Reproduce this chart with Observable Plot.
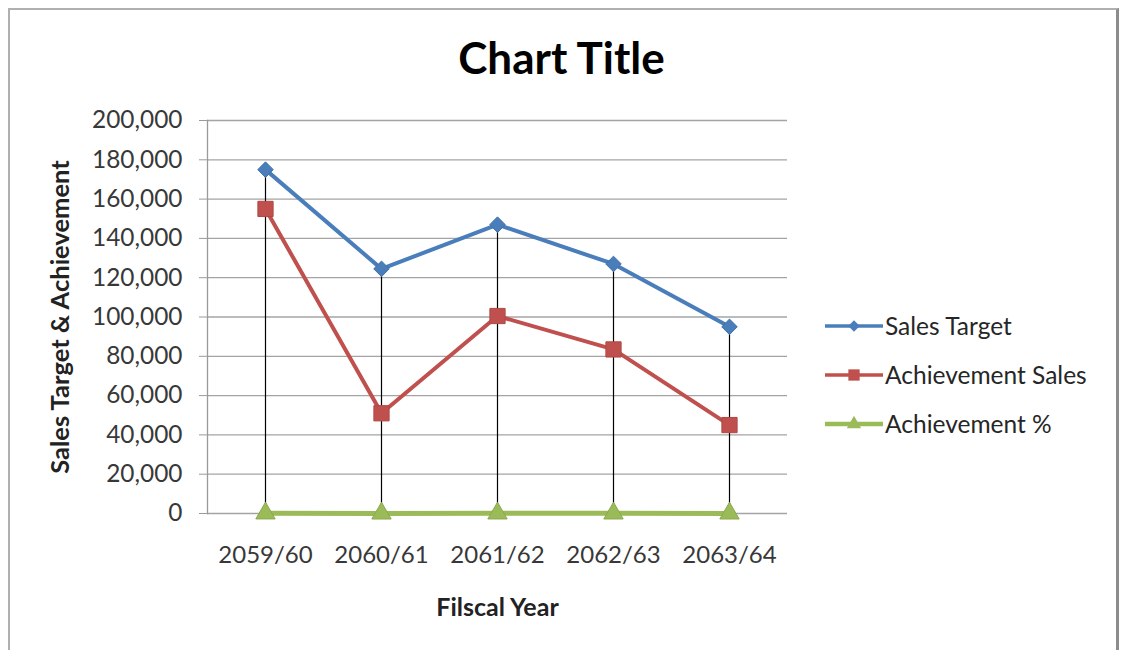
<!DOCTYPE html>
<html>
<head>
<meta charset="utf-8">
<script src="https://cdn.jsdelivr.net/npm/d3@7"></script>
<script src="https://cdn.jsdelivr.net/npm/@observablehq/plot@0.6"></script>
<style>
  html, body { margin: 0; padding: 0; background: #fff; }
  #chart { position: relative; width: 1126px; height: 650px; overflow: hidden; background: #fff; font-family: Lato, "Open Sans", sans-serif; }
  #border { position: absolute; left: 8px; top: 8px; width: 1106px; height: 700px;
            border-left: 2px solid #b0b0b0; border-top: 2px solid #b0b0b0; border-right: 3px solid #8c8c8c; }
  #title { position: absolute; left: 0; width: 1123px; top: 35px; text-align: center;
           font-size: 44px; line-height: 1; font-weight: bold; color: #000; }
  #plot { position: absolute; left: 0; top: 0; }
</style>
</head>
<body>
<div id="chart">
  <div id="border"></div>
  <div id="title">Chart Title</div>
  <div id="plot"></div>
</div>
<script>
// Fiscal years on the category axis
const years = ["2059/60", "2060/61", "2061/62", "2062/63", "2063/64"];

// Series values per fiscal year
const salesTarget = [175000, 124500, 147000, 127000, 95000];
const achievementSales = [155000, 51000, 100500, 83500, 45000];
const achievementPct = [88.6, 41.0, 68.4, 65.7, 47.4];

// Value-axis tick labels
const yTicks = [0, 20000, 40000, 60000, 80000, 100000, 120000, 140000, 160000, 180000, 200000];

// A square turned 45 degrees (equal width and height)
const squareDiamond = {
  draw(context, size) {
    const h = Math.sqrt(size) / Math.SQRT2 * 1.0;
    context.moveTo(0, -h);
    context.lineTo(h, 0);
    context.lineTo(0, h);
    context.lineTo(-h, 0);
    context.closePath();
  }
};

const seriesNames = ["Sales Target", "Achievement Sales", "Achievement %"];
const seriesValues = [salesTarget, achievementSales, achievementPct];
const seriesColors = ["#4a7ebb", "#c0504d", "#9bbb59"];
const seriesSymbols = [squareDiamond, d3.symbolSquare, d3.symbolTriangle];
const seriesRadius = [6.2, 8.6, 7.2];
const seriesWidth = [4, 4, 5];

// Long-form table: one row per (series, year)
const rows = seriesNames.flatMap((name, s) =>
  years.map((year, i) => ({series: name, year, value: seriesValues[s][i]}))
);

// High-low lines spanning all series at each year
const highLow = years.map((year, i) => ({
  year,
  low: d3.min(seriesValues, v => v[i]),
  high: d3.max(seriesValues, v => v[i])
}));

const lineMarks = seriesNames.map((name, s) =>
  Plot.line(rows.filter(d => d.series === name), {
    x: "year", y: "value", stroke: seriesColors[s], strokeWidth: seriesWidth[s],
    strokeLinejoin: "round", strokeLinecap: "butt"
  })
);
const dotMarks = seriesNames.map((name, s) =>
  Plot.dot(rows.filter(d => d.series === name), {
    x: "year", y: "value", symbol: seriesSymbols[s], r: seriesRadius[s],
    fill: seriesColors[s], stroke: d3.color(seriesColors[s]).darker(0.3).formatHex(), strokeWidth: 1
  })
);

const plot = Plot.plot({
  width: 1126,
  height: 650,
  marginLeft: 207,
  marginRight: 339,
  marginTop: 120,
  marginBottom: 137,
  style: {fontFamily: "Lato, 'Open Sans', sans-serif", background: "transparent", overflow: "visible"},
  x: {type: "point", domain: years, padding: 0.5},
  y: {type: "linear", domain: [0, 200000]},
  marks: [
    Plot.ruleY(yTicks, {stroke: "#a4a4a4", strokeWidth: 1.3}),
    Plot.frame({anchor: "left", stroke: "#9a9a9a", strokeWidth: 1.3}),
    Plot.axisY({
      ticks: yTicks, tickFormat: d3.format(","), tickSize: 8, tickPadding: 17,
      fontSize: 24.4, fill: "#383838", stroke: "#9a9a9a", label: null
    }),
    Plot.axisX({
      tickSize: 0, tickPadding: 42, lineAnchor: "middle",
      fontSize: 24, fill: "#383838", label: null
    }),
    Plot.ruleX(highLow, {x: "year", y1: "low", y2: "high", stroke: "#000", strokeWidth: 1.2}),
    ...lineMarks,
    ...dotMarks,
    Plot.text(["Sales Target & Achievement"], {
      frameAnchor: "left", dx: -147, rotate: -90, textAnchor: "middle", lineAnchor: "middle",
      fontWeight: "bold", fontSize: 25.5, fill: "#222"
    }),
    Plot.text(["Filscal Year"], {
      frameAnchor: "bottom", dy: 94, textAnchor: "middle", lineAnchor: "middle",
      fontWeight: "bold", fontSize: 25, fill: "#222"
    })
  ]
});

// Legend: one row per series with a line swatch and its marker
const svg = d3.select(plot);
const legend = svg.append("g")
  .attr("font-family", "Lato, 'Open Sans', sans-serif")
  .attr("text-anchor", "start");
const legendRowY = [326, 375, 424];
seriesNames.forEach((name, s) => {
  const g = legend.append("g").attr("transform", `translate(825,${legendRowY[s]})`);
  g.append("line").attr("x1", 0).attr("x2", 58).attr("y1", 0).attr("y2", 0)
    .attr("stroke", seriesColors[s]).attr("stroke-width", seriesWidth[s] - 0.5);
  g.append("path")
    .attr("d", d3.symbol(seriesSymbols[s], Math.PI * seriesRadius[s] * seriesRadius[s] * 0.55)())
    .attr("transform", "translate(29,0)")
    .attr("fill", seriesColors[s]);
  g.append("text").attr("x", 60).attr("y", 0).attr("dy", "0.35em")
    .attr("font-size", 24.5).attr("fill", "#262626").text(name);
});

document.getElementById("plot").appendChild(plot);
</script>
</body>
</html>
